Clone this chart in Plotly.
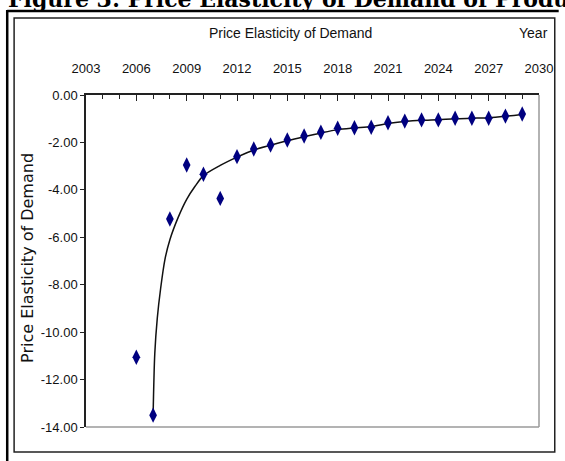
import plotly.graph_objects as go

# Canvas and plot-area geometry (pixels)
W, H = 565, 461
L, R, T, B = 86, 546, 95, 427

# Observed price elasticity of demand by year
years = list(range(2006, 2030))
elasticity = [-11.06, -13.50, -5.23, -2.95, -3.34, -4.36, -2.60, -2.28,
              -2.11, -1.90, -1.73, -1.57, -1.40, -1.38, -1.36, -1.17,
              -1.10, -1.05, -1.05, -0.98, -0.98, -0.98, -0.89, -0.80]

# Fitted trend curve
trend_years = [2007.0, 2007.1, 2007.25, 2007.45, 2007.7, 2008.0, 2008.5,
               2009.0, 2009.5, 2010.0, 2011.0, 2012.0, 2013.0, 2014.0,
               2015.0, 2016.0, 2017.0, 2018.0, 2019.0, 2020.0, 2021.0,
               2022.0, 2023.0, 2024.0, 2025.0, 2026.0, 2027.0, 2028.0,
               2029.0]
trend_values = [-13.50, -10.90, -9.40, -8.15, -6.95, -6.10, -5.15,
                -4.40, -3.85, -3.40, -2.97, -2.62, -2.32, -2.12,
                -1.93, -1.76, -1.60, -1.46, -1.39, -1.33, -1.20,
                -1.12, -1.07, -1.04, -1.00, -0.98, -0.96, -0.90,
                -0.82]

x_ticks = list(range(2003, 2031, 3))
y_ticks = list(range(-14, 1, 2))

SANS = "Liberation Sans, Arial, sans-serif"


def px(x):
    return (x - L) / (R - L)


def py(y):
    return (B - y) / (B - T)


fig = go.Figure()

fig.add_trace(go.Scatter(
    x=trend_years, y=trend_values, mode="lines",
    line=dict(color="#111111", width=1.5, shape="spline", smoothing=0.8),
    hoverinfo="skip", showlegend=False,
))

fig.add_trace(go.Scatter(
    x=years, y=elasticity, mode="markers",
    marker=dict(symbol="diamond-tall", size=11, color="#000080",
                line=dict(width=0)),
    showlegend=False,
))

fig.update_xaxes(
    range=[2003, 2030], side="top",
    tickmode="array", tickvals=x_ticks, ticktext=[str(v) for v in x_ticks],
    ticks="inside", ticklen=6, tickwidth=1, tickcolor="#222222",
    minor=dict(dtick=1, tick0=2003, ticks="inside", ticklen=4,
               tickcolor="#222222", tickwidth=1),
    showline=True, linecolor="#222222", linewidth=1.5,
    showgrid=False, zeroline=False,
    tickfont=dict(family=SANS, size=13, color="#111111"),
    ticklabelstandoff=15,
)

fig.update_yaxes(
    range=[-14, 0], tickmode="array", tickvals=y_ticks,
    ticktext=[f"{v:.2f}" for v in y_ticks],
    ticks="outside", ticklen=4, tickwidth=1, tickcolor="#222222",
    showline=True, linecolor="#222222", linewidth=1.5,
    showgrid=False, zeroline=False,
    tickfont=dict(family=SANS, size=13, color="#111111"),
    ticklabelstandoff=0,
)

shapes = [
    # plot area right and bottom edges
    dict(type="line", xref="paper", yref="paper", x0=1, x1=1, y0=0, y1=1,
         line=dict(color="#9a9a9a", width=1.5)),
    dict(type="line", xref="paper", yref="paper", x0=0, x1=1, y0=0, y1=0,
         line=dict(color="#9a9a9a", width=1.5)),
    # chart frame
    dict(type="rect", xref="paper", yref="paper",
         x0=px(13), x1=px(562), y0=py(452), y1=py(18),
         line=dict(color="#222222", width=1.5), layer="below"),
    # page border lines
    dict(type="line", xref="paper", yref="paper",
         x0=px(6), x1=px(566), y0=py(11), y1=py(11),
         line=dict(color="#000000", width=2.5)),
    dict(type="line", xref="paper", yref="paper",
         x0=px(6), x1=px(6), y0=py(10), y1=py(462),
         line=dict(color="#000000", width=2.5)),
]

annotations = [
    dict(text="Price Elasticity of Demand", xref="paper", yref="paper",
         x=px(294), y=py(33), xanchor="center", yanchor="middle",
         showarrow=False, font=dict(family=SANS, size=14, color="#111111")),
    dict(text="Year", xref="paper", yref="paper",
         x=px(540), y=py(33), xanchor="center", yanchor="middle",
         showarrow=False, font=dict(family=SANS, size=14, color="#111111")),
    dict(text="Price Elasticity of Demand", xref="paper", yref="paper",
         x=px(26), y=py(258), xanchor="center", yanchor="middle",
         textangle=-90, showarrow=False,
         font=dict(family="DejaVu Sans, sans-serif", size=16, color="#111111")),
    dict(text="<b>Figure 3: Price Elasticity of Demand of Product</b>",
         xref="paper", yref="paper", x=px(5), y=py(14), xanchor="left",
         yanchor="bottom", showarrow=False,
         font=dict(family="DejaVu Serif, serif", size=22, color="#000000")),
]

fig.update_layout(
    width=W, height=H,
    margin=dict(l=L, r=W - R, t=T, b=H - B, pad=0),
    paper_bgcolor="white", plot_bgcolor="white",
    shapes=shapes, annotations=annotations,
    showlegend=False,
)

fig.write_html("out.html")
